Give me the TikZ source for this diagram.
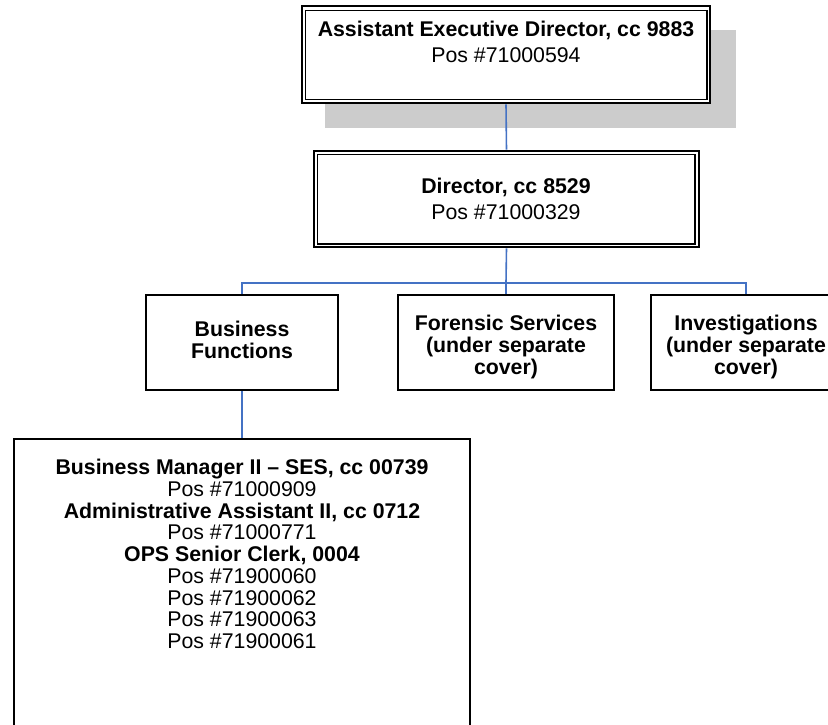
\documentclass[tikz,border=0pt]{standalone}
\usepackage{fontspec}
\setmainfont{Liberation Sans}
\begin{document}
\begin{tikzpicture}[x=1pt,y=-1pt,
  txt/.style={align=center,inner sep=0pt,font=\fontsize{21.3}{25.5}\selectfont},
  txtsm/.style={align=center,inner sep=0pt,font=\fontsize{21.3}{21.7}\selectfont},
  box/.style={draw=black,line width=2pt,inner sep=0pt,fill=white},
  outerbox/.style={draw=black,line width=2.6pt,inner sep=0pt,fill=white},
  innerline/.style={draw=black,line width=1.4pt},
  link/.style={draw=linkblue,line width=1.6pt}]
\definecolor{linkblue}{HTML}{4472C4}
\useasboundingbox (0,0) rectangle (828,724);
\clip (0,0) rectangle (828,724);
% shadow of top box
\fill[gray!40] (325,30) rectangle (736,128);
% top box
\node[outerbox,minimum width=408pt,minimum height=97pt] (aed) at (506,54.5) {};
\draw[innerline] ([shift={(5pt,-5.5pt)}]aed.north west) rectangle ([shift={(-4.5pt,5pt)}]aed.south east);
\node[txt] (aedt) at (506,42) {\textbf{Assistant Executive Director, cc 9883}\\Pos \#71000594};
% director box
\node[outerbox,minimum width=385pt,minimum height=96pt] (dir) at (506.5,199) {};
\draw[innerline] ([shift={(4.5pt,-4.5pt)}]dir.north west) rectangle ([shift={(-5.5pt,4.5pt)}]dir.south east);
\node[txt] (dirt) at (506,199) {\textbf{Director, cc 8529}\\Pos \#71000329};
% second level
\node[box,minimum width=192pt,minimum height=95pt] (bf) at (242,342.5) {};
\node[txtsm] (bft) at (242,340) {\textbf{Business}\\\textbf{Functions}};
\node[box,minimum width=216pt,minimum height=95pt] (fs) at (506,342.5) {};
\node[txtsm] (fst) at (506,347) {\textbf{Forensic Services}\\\textbf{(under separate}\\\textbf{cover)}};
\node[box,minimum width=190pt,minimum height=95pt] (inv) at (746,342.5) {};
\node[txtsm] (invt) at (746,347) {\textbf{Investigations}\\\textbf{(under separate}\\\textbf{cover)}};
% bottom box
\node[box,minimum width=456pt,minimum height=320pt] (bm) at (242,599) {};
\node[txtsm] (bmt) at (242,554) {\textbf{Business Manager II – SES, cc 00739}\\Pos \#71000909\\\textbf{Administrative Assistant II, cc 0712}\\Pos \#71000771\\\textbf{OPS Senior Clerk, 0004}\\Pos \#71900060\\Pos \#71900062\\Pos \#71900063\\Pos \#71900061};
% connectors
\coordinate (bus) at (506,283);
\draw[link] (aed.south) -- (dir.north);
\draw[link] (dir.south) -- (bus);
\draw[link] (bf.north) |- (bus) -| (inv.north);
\draw[link] (bus) -- (fs.north);
\draw[link] (bf.south) -- (bm.north);
\end{tikzpicture}
\end{document}
